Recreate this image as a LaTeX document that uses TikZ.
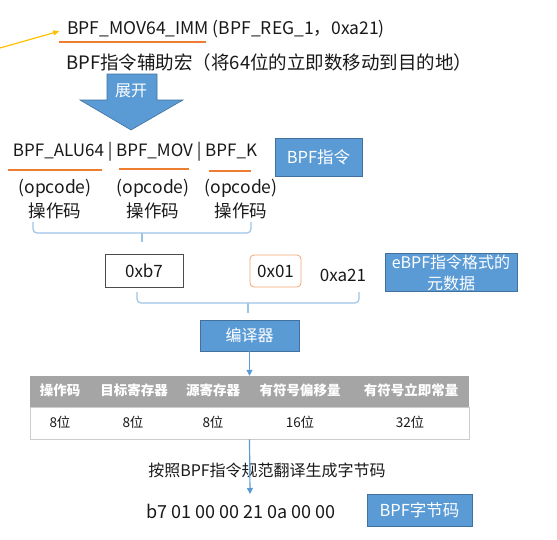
\documentclass[tikz,border=0pt]{standalone}
\usepackage{fontspec}
\setmainfont{Noto Sans CJK SC}
\usetikzlibrary{arrows.meta}
\definecolor{bblue}{HTML}{5B9BD5}
\definecolor{bbord}{HTML}{41719C}
\definecolor{borange}{HTML}{ED7D31}
\definecolor{byellow}{HTML}{FFC000}
\definecolor{bbrace}{HTML}{9DC3E6}
\definecolor{bgray}{HTML}{A5A5A5}
\tikzset{
  txt/.style={inner sep=0pt, font=\fontsize{17}{19}\selectfont, text=black!90},
  bluebox/.style={draw=bbord, fill=bblue, text=white, inner sep=0pt, font=\fontsize{16.5}{18}\selectfont},
  uline/.style={draw=borange, line width=1.3pt},
  bracep/.style={draw=bbrace, line width=1.2pt, rounded corners=4pt},
  conn/.style={draw=bblue, line width=1.2pt, -{Triangle[length=6pt,width=6pt]}},
  hdr/.style={inner sep=0pt, text=white, font=\fontsize{13.5}{15}\selectfont\bfseries},
  val/.style={inner sep=0pt, text=black!90, font=\fontsize{13.5}{15}\selectfont},
}
\begin{document}
\begin{tikzpicture}[x=1pt,y=-1pt]
\useasboundingbox (0,0) rectangle (557,539);
% top macro
\node[txt, anchor=west, font=\fontsize{17.5}{19}\selectfont] (mac) at (67,29) {BPF\_MOV64\_IMM (BPF\_REG\_1，0xa21)};
\draw[uline] (59,42) -- (206,42);
\coordinate (ystart) at (0,48);
\draw[draw=byellow, line width=1.2pt, shorten >=8pt, -{Triangle[length=6pt,width=5pt]}] (ystart) -- (mac.west);
\node[txt, anchor=west, font=\fontsize{18.5}{20}\selectfont] (macdesc) at (66,62) {BPF指令辅助宏（将64位的立即数移动到目的地）};
% block arrow
\path[fill=bblue, draw=bbord, line width=0.6pt] (107,74) -- (157,74) -- (157,100) -- (183,100) -- (131,130) -- (80,100) -- (107,100) -- cycle;
\node[text=white, inner sep=0pt, font=\fontsize{16}{18}\selectfont] (expand) at (131,91) {展开};
% instruction
\node[txt] (ins) at (135,152) {BPF\_ALU64 | BPF\_MOV | BPF\_K};
\draw[uline] (8,170) -- (102,170);
\draw[uline] (119,169) -- (189,169);
\draw[uline] (209,171) -- (251,171);
\node[bluebox, minimum width=87pt, minimum height=38pt] (bpfins) at (318.5,157) {BPF指令};
\foreach \x/\n in {55/a,153/b,241/c}{
  \node[txt, font=\fontsize{17.5}{19}\selectfont] (op\n) at (\x,188) {(opcode)};
  \node[txt, font=\fontsize{17.5}{19}\selectfont] (cn\n) at (\x,211) {操作码};
}
% brace 1
\draw[bracep] (33,222) -- (33,233) -- (251,233) -- (251,222);
\draw[draw=bbrace, line width=1.2pt] (142,233) -- (142,242);
% fields
\node[draw=black!70, line width=0.8pt, minimum width=78pt, minimum height=33pt, txt] (b7) at (144,270.5) {0xb7};
\node[draw=borange!70, line width=0.8pt, rounded corners=4pt, minimum width=51pt, minimum height=32pt, txt] (x01) at (275.5,271) {0x01};
\node[txt] (xa21) at (343,275) {0xa21};
\node[bluebox, minimum width=132pt, minimum height=38pt] (meta) at (451,272) {};
\node[text=white, inner sep=0pt, font=\fontsize{16}{18}\selectfont] (meta1) at (451,262) {eBPF指令格式的};
\node[text=white, inner sep=0pt, font=\fontsize{16}{18}\selectfont] (meta2) at (451,283) {元数据};
% brace 2
\draw[bracep] (137,292) -- (137,303) -- (359,303) -- (359,292);
\draw[draw=bbrace, line width=1.2pt] (248,303) -- (248,313);
% compiler
\node[bluebox, minimum width=99pt, minimum height=31pt, font=\fontsize{16}{18}\selectfont] (comp) at (249.5,335.5) {编译器};
% table
\node[fill=bgray, minimum width=439pt, minimum height=31pt, inner sep=0pt] (thead) at (249.5,391.5) {};
\node[draw=black!20, line width=0.8pt, minimum width=439pt, minimum height=32pt, inner sep=0pt] (trow) at (249.5,423) {};
\node[hdr] (ha) at (60,390) {操作码};
\node[hdr] (hb) at (134,390) {目标寄存器};
\node[hdr] (hc) at (213,390) {源寄存器};
\node[hdr] (hd) at (300,390) {有符号偏移量};
\node[hdr] (he) at (411,390) {有符号立即常量};
\node[val] (va) at (60,422) {8位};
\node[val] (vb) at (133,422) {8位};
\node[val] (vc) at (213,422) {8位};
\node[val] (vd) at (300,422) {16位};
\node[val] (ve) at (410,422) {32位};
\draw[conn] (comp.south) -- (comp.south |- thead.north);
% bytecode
\node[txt, font=\fontsize{16}{18}\selectfont] (rule) at (267,470) {按照BPF指令规范翻译生成字节码};
\node[txt, font=\fontsize{18}{20}\selectfont] (bytes) at (241,511) {b7 01 00 00 21 0a 00 00};
\coordinate (btop) at (250,494);
\draw[conn] (trow.south -| comp.south) -- (btop);
\node[bluebox, minimum width=105pt, minimum height=32pt] (bcode) at (419.5,510) {BPF字节码};
\end{tikzpicture}
\end{document}
